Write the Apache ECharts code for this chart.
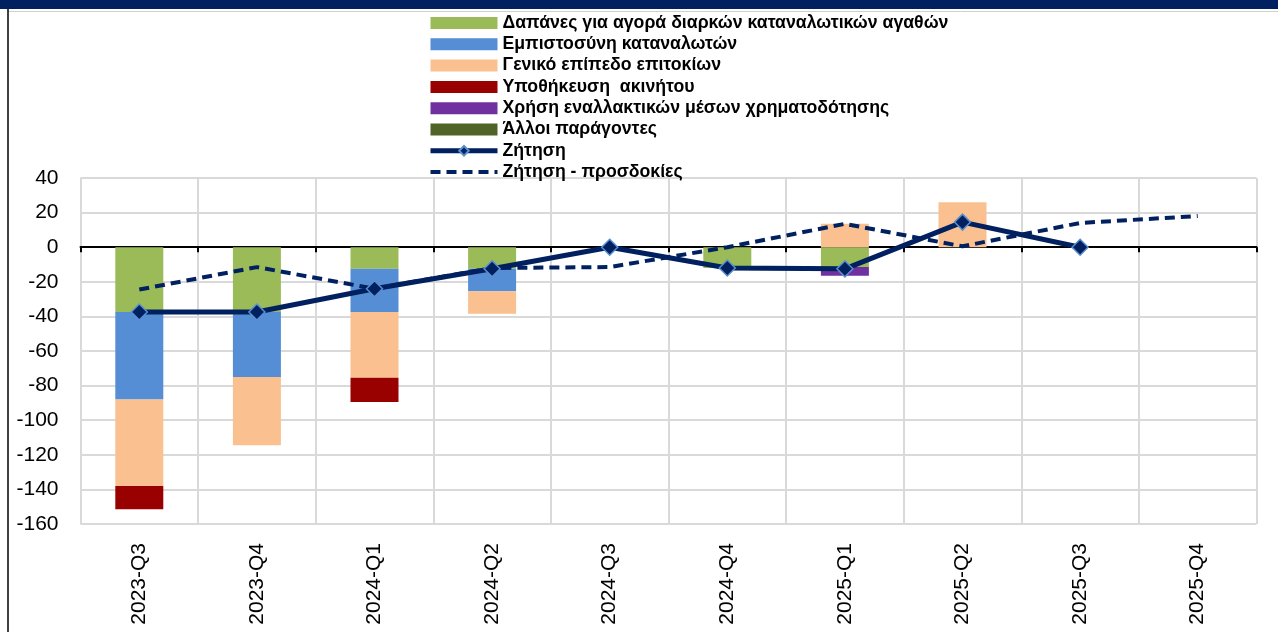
<!DOCTYPE html>
<html>
<head>
<meta charset="utf-8">
<script src="https://cdn.jsdelivr.net/npm/echarts@6/dist/echarts.min.js"></script>
<style>
  html, body { margin: 0; padding: 0; background: #fff; }
  #chart { width: 1278px; height: 632px; }
</style>
</head>
<body>
<div id="chart"></div>
<script>
const quarters = ['2023-Q3', '2023-Q4', '2024-Q1', '2024-Q2', '2024-Q3', '2024-Q4', '2025-Q1', '2025-Q2', '2025-Q3', '2025-Q4'];

// contributions (net %)
const durables = [-37.5, -37.5, -12.5, -12.5, 0, -12, -11.5, 0, 0, null];
const confidence = [-50.5, -37.5, -25, -13, 0, 0, 0, 0, 0, null];
const interestRates = [-50, -39.5, -38, -13, 0, 0, 13.5, 26, 0, null];
const collateral = [-13.5, 0, -14, 0, 0, 0, 0, 0, 0, null];
const altFinance = [0, 0, 0, 0, 0, 0, -5, 0, 0, null];
const otherFactors = [0, 0, 0, 0, 0, 0, 0, 0, 0, null];

const demand = [-37.5, -37.5, -24, -12.5, 0, -12, -12.5, 14.5, 0, null];
const demandExpected = [-24.5, -11.5, -24, -12, -11.5, 0, 13.5, 0.5, 14, 18];

const yTicks = { min: -160, max: 40, step: 20 };

const chart = echarts.init(document.getElementById('chart'));

function barSeries(name, data, color) {
  return {
    name: name,
    type: 'bar',
    stack: 'f',
    data: data,
    barWidth: 48,
    itemStyle: { color: color },
    xAxisIndex: 0
  };
}

const option = {
  animation: false,
  textStyle: { fontFamily: 'Liberation Sans' },
  graphic: [
    { type: 'rect', shape: { x: 0, y: 0, width: 1278, height: 9 }, style: { fill: '#002060' }, silent: true },
    { type: 'line', shape: { x1: 8, y1: 11.5, x2: 1278, y2: 11.5 }, style: { stroke: '#d0d0d0', lineWidth: 1 }, silent: true },
    { type: 'line', shape: { x1: 8, y1: 9, x2: 8, y2: 632 }, style: { stroke: '#000', lineWidth: 1.5 }, silent: true }
  ],
  legend: {
    orient: 'vertical',
    left: 428,
    top: 14,
    padding: 0,
    itemWidth: 67,
    itemHeight: 12,
    itemGap: 3.3,
    textStyle: { fontSize: 17.7, fontWeight: 'bold', color: '#000', lineHeight: 18, fontFamily: 'Liberation Sans' },
    data: [
      { name: 'Δαπάνες για αγορά διαρκών καταναλωτικών αγαθών', icon: 'rect' },
      { name: 'Εμπιστοσύνη καταναλωτών', icon: 'rect' },
      { name: 'Γενικό επίπεδο επιτοκίων', icon: 'rect' },
      { name: 'Υποθήκευση  ακινήτου', icon: 'rect' },
      { name: 'Χρήση εναλλακτικών μέσων χρηματοδότησης', icon: 'rect' },
      { name: 'Άλλοι παράγοντες', icon: 'rect' },
      { name: 'Ζήτηση', lineStyle: { width: 5 } },
      { name: 'Ζήτηση - προσδοκίες', lineStyle: { width: 4 }, itemStyle: { opacity: 0 } }
    ]
  },
  grid: { left: 80.5, right: 21.5, top: 178, bottom: 108 },
  xAxis: [
    {
      type: 'category',
      data: quarters,
      position: 'bottom',
      axisLine: { show: false, onZero: false },
      axisTick: { show: false },
      axisLabel: { rotate: 90, fontSize: 21, color: '#000', margin: 19 },
      splitLine: { show: true, lineStyle: { color: '#d9d9d9', width: 2 } }
    },
    {
      type: 'category',
      data: quarters,
      position: 'bottom',
      axisLine: { show: true, onZero: true, lineStyle: { color: '#000', width: 2 } },
      axisTick: { show: true, length: 5, lineStyle: { color: '#000', width: 2 } },
      axisLabel: { show: false },
      splitLine: { show: false }
    }
  ],
  yAxis: {
    type: 'value',
    min: yTicks.min,
    max: yTicks.max,
    interval: yTicks.step,
    axisLine: { show: false },
    axisTick: { show: false },
    axisLabel: { fontSize: 21, color: '#000', margin: 22 },
    splitLine: { lineStyle: { color: '#d9d9d9', width: 2 } }
  },
  series: [
    barSeries('Δαπάνες για αγορά διαρκών καταναλωτικών αγαθών', durables, '#9bbb59'),
    barSeries('Εμπιστοσύνη καταναλωτών', confidence, '#558ed5'),
    barSeries('Γενικό επίπεδο επιτοκίων', interestRates, '#fac090'),
    barSeries('Υποθήκευση  ακινήτου', collateral, '#990000'),
    barSeries('Χρήση εναλλακτικών μέσων χρηματοδότησης', altFinance, '#7030a0'),
    barSeries('Άλλοι παράγοντες', otherFactors, '#4f6228'),
    {
      name: 'Ζήτηση - προσδοκίες',
      type: 'line',
      data: demandExpected,
      symbol: 'none',
      lineStyle: { color: '#002060', width: 4, type: [10, 6] },
      itemStyle: { color: '#002060' },
      z: 3
    },
    {
      name: 'Ζήτηση',
      type: 'line',
      data: demand,
      symbol: 'diamond',
      symbolSize: 16,
      lineStyle: { color: '#002060', width: 5 },
      itemStyle: { color: '#002060', borderColor: '#5b8fd0', borderWidth: 1.5 },
      z: 4
    }
  ]
};

chart.setOption(option);
</script>
</body>
</html>
